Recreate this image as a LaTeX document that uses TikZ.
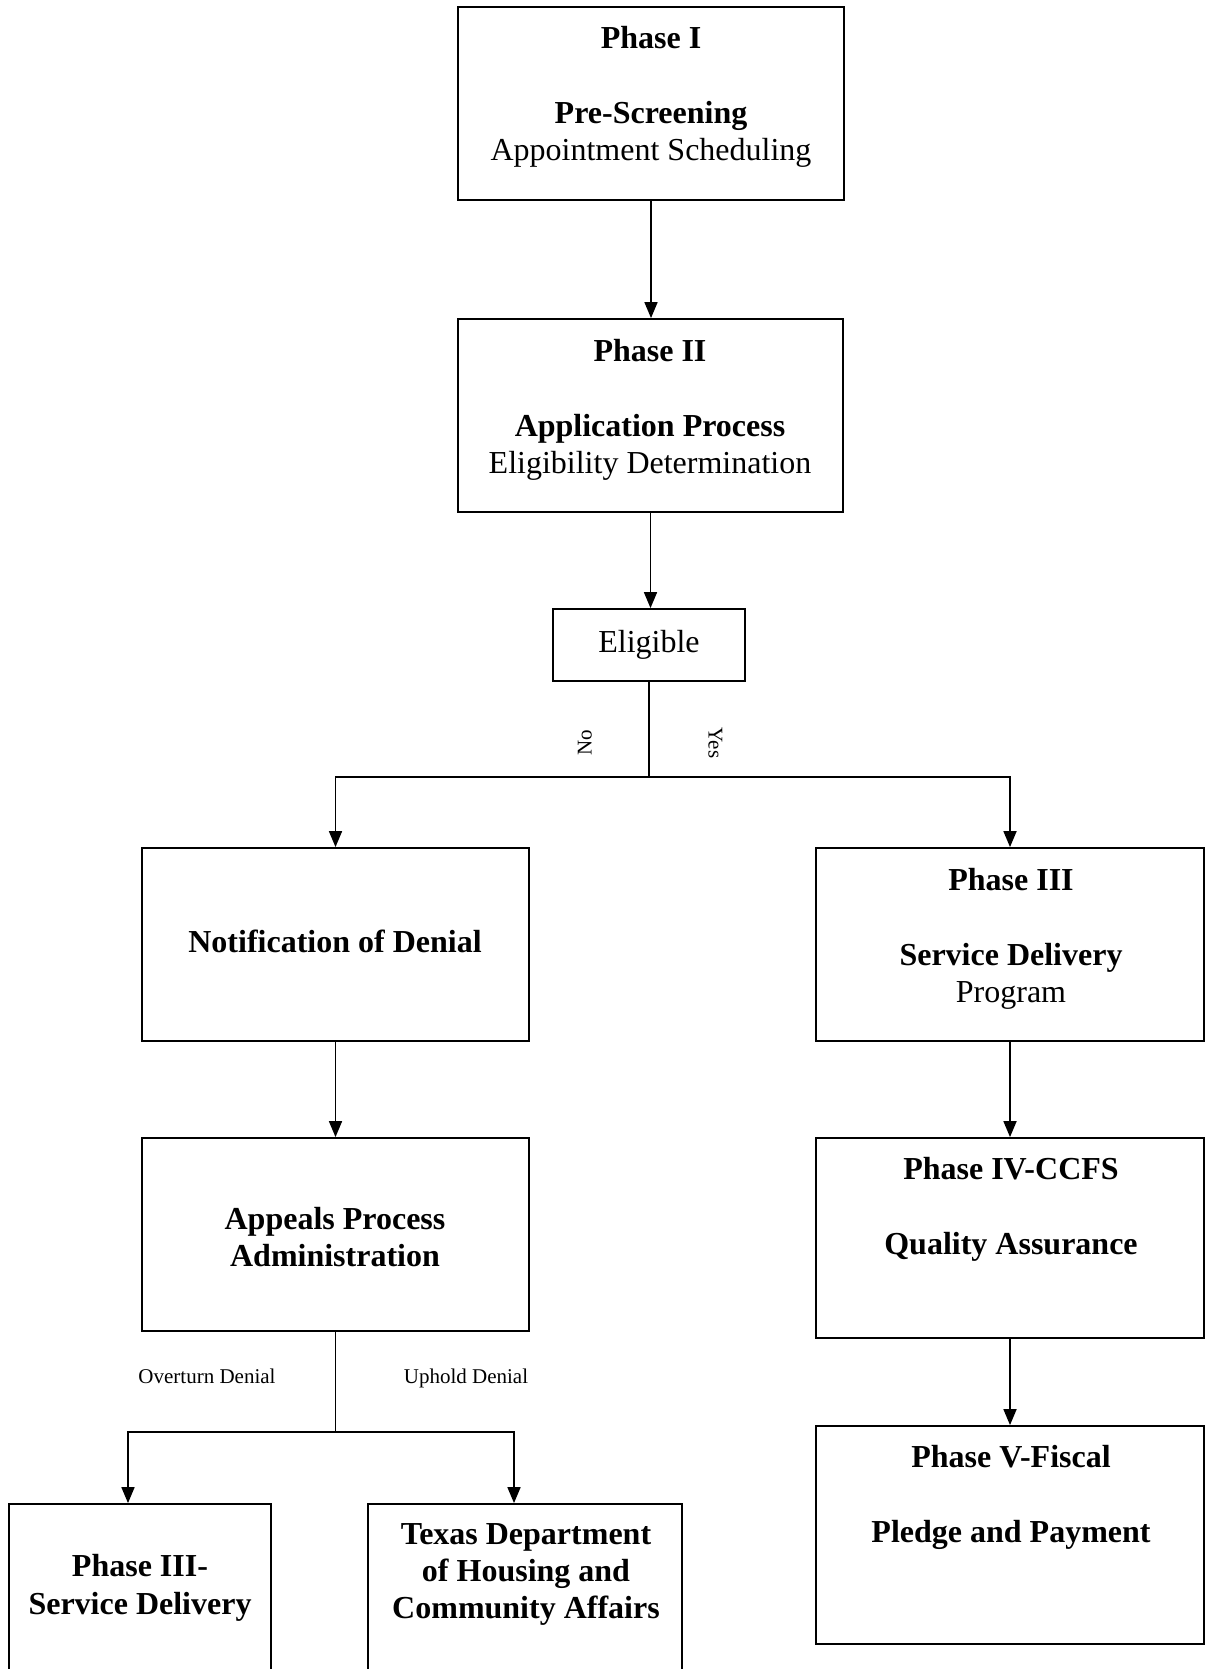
\documentclass[tikz,border=0pt]{standalone}
\usepackage{fontspec}
\setmainfont{Liberation Serif}
\usetikzlibrary{arrows.meta}
\tikzset{
  phasebox/.style={draw, line width=1.8pt, inner sep=0pt},
  phasetext/.style={anchor=north, align=center, inner sep=0pt, font=\fontsize{32}{37}\selectfont},
  branchnote/.style={inner sep=0pt, text height=14pt, text depth=5pt, font=\fontsize{21}{24}\selectfont},
}
\begin{document}
\begin{tikzpicture}[x=1pt, y=-1pt]
  \useasboundingbox (0,0) rectangle (1205,1669);
  \clip (0,0) rectangle (1205,1669);
  \node[phasebox, minimum width=386pt, minimum height=193pt] (p1) at (651,103.5) {};
  \node[phasebox, minimum width=385pt, minimum height=193pt] (p2) at (650.5,415.5) {};
  \node[phasebox, minimum width=192pt, minimum height=72pt, font=\fontsize{32}{37}\selectfont] (elig) at (649,645) {Eligible};
  \node[phasebox, minimum width=387pt, minimum height=193pt] (deny) at (335.5,944.5) {};
  \node[phasebox, minimum width=388pt, minimum height=193pt] (p3) at (1010,944.5) {};
  \node[phasebox, minimum width=387pt, minimum height=193pt] (appeal) at (335.5,1234.5) {};
  \node[phasebox, minimum width=388pt, minimum height=200pt] (p4) at (1010,1238) {};
  \node[phasebox, minimum width=388pt, minimum height=218pt] (p5) at (1010,1535) {};
  \node[phasebox, minimum width=262pt, minimum height=250pt] (p3b) at (140,1629) {};
  \node[phasebox, minimum width=314pt, minimum height=250pt] (tdhca) at (525,1629) {};

  \node[phasetext] (p1t) at (651,26) {\textbf{Phase I}\\[38pt]\textbf{Pre-Screening}\\Appointment Scheduling};
  \node[phasetext] (p2t) at (650,339) {\textbf{Phase II}\\[38pt]\textbf{Application Process}\\Eligibility Determination};
  \node[phasetext, font=\fontsize{32}{37}\selectfont\bfseries] (denyt) at (335,930) {Notification of Denial};
  \node[phasetext] (p3t) at (1011,868) {\textbf{Phase III}\\[38pt]\textbf{Service Delivery}\\Program};
  \node[phasetext, font=\fontsize{32}{37}\selectfont\bfseries] (appealt) at (335,1207) {Appeals Process\\Administration};
  \node[phasetext, font=\fontsize{32}{37}\selectfont\bfseries] (p4t) at (1011,1157) {Phase IV-CCFS\\[38pt]Quality Assurance};
  \node[phasetext, font=\fontsize{32}{37}\selectfont\bfseries] (p5t) at (1011,1445) {Phase V-Fiscal\\[38pt]Pledge and Payment};
  \node[phasetext, font=\fontsize{32}{38}\selectfont\bfseries] (p3bt) at (140,1554) {Phase III-\\Service Delivery};
  \node[phasetext, font=\fontsize{32}{37}\selectfont\bfseries] (tdhcat) at (526,1523) {Texas Department\\of Housing and\\Community Affairs};

  \node[branchnote, rotate=90] (no) at (587,743) {No};
  \node[branchnote, rotate=-90] (yes) at (713,743) {Yes};
  \node[branchnote] (overturn) at (207,1379) {Overturn Denial};
  \node[branchnote] (uphold) at (466,1379) {Uphold Denial};

  \coordinate (fork) at (649,777);
  \coordinate (fork2) at (335.5,1432);
  \begin{scope}[line width=1.7pt, -{Triangle[length=16pt,width=13pt]}]
    \draw (p1.south) -- (p1.south |- p2.north);
    \draw (p2.south) -- (p2.south |- elig.north);
    \draw[-] (elig.south) -- (fork);
    \draw (fork) -| (deny.north);
    \draw (fork) -| (p3.north);
    \draw (deny.south) -- (appeal.north);
    \draw (p3.south) -- (p4.north);
    \draw (p4.south) -- (p5.north);
    \draw[-] (appeal.south) -- (fork2);
    \draw (fork2) -| ([xshift=-12pt]p3b.north);
    \draw (fork2) -| ([xshift=-11pt]tdhca.north);
  \end{scope}
\end{tikzpicture}
\end{document}
